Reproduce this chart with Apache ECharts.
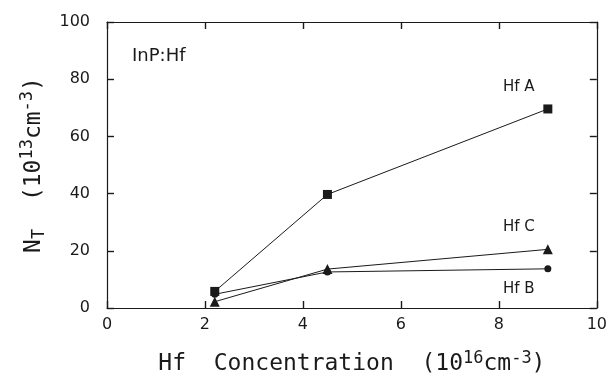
<!DOCTYPE html>
<html>
<head>
<meta charset="utf-8">
<script src="https://cdn.jsdelivr.net/npm/echarts@6/dist/echarts.min.js"></script>
<style>html,body{margin:0;padding:0;background:#fff;}#c{width:610px;height:381px;}</style>
</head>
<body>
<div id="c"></div>
<script>
var concentration = [2.2, 4.5, 9.0];
var hfA = [5.8, 39.7, 69.6];
var hfB = [4.8, 12.6, 13.7];
var hfC = [2.2, 13.6, 20.5];
var xTicks = [0, 2, 4, 6, 8, 10];
var yTicks = [0, 20, 40, 60, 80, 100];

function pairs(xs, ys) { return xs.map(function (x, i) { return [x, ys[i]]; }); }

var ink = '#1a1a1a';
var font = 'DejaVu Sans';
var chart = echarts.init(document.getElementById('c'));

function seriesDef(name, data, symbol, size, labelPos, labelOffset) {
  return {
    name: name, type: 'line', data: pairs(concentration, data),
    symbol: symbol, symbolSize: size, showAllSymbol: true,
    lineStyle: { color: ink, width: 1 },
    itemStyle: { color: ink, borderColor: ink, borderWidth: 0 },
    label: {
      show: true,
      formatter: function (p) { return p.dataIndex === data.length - 1 ? name.replace('Hf', 'Hf ') : ''; },
      position: labelPos, offset: labelOffset,
      color: ink, fontFamily: font, fontSize: 15
    },
    emphasis: { disabled: true },
    z: 3
  };
}

function axisLine() { return { show: true, onZero: false, lineStyle: { color: ink, width: 1.2 } }; }
function axisTick() { return { show: true, inside: true, length: 7, lineStyle: { color: ink, width: 1.4 } }; }

chart.setOption({
  animation: false,
  backgroundColor: '#fff',
  title: {
    text: 'InP:Hf', left: 127, top: 42,
    textStyle: { fontFamily: font, fontWeight: 'normal', fontSize: 18, color: ink }
  },
  grid: { left: 107, right: 13, top: 22, bottom: 72 },
  xAxis: [{
    type: 'value', min: 0, max: 10, interval: 2,
    axisLine: axisLine(), axisTick: axisTick(), splitLine: { show: false },
    axisLabel: {
      margin: 9, color: ink, fontFamily: font, fontSize: 16,
      formatter: function (v) { return xTicks.indexOf(v) >= 0 ? String(v) : ''; }
    },
    name: 'Hf  Concentration  (10{sup|16}cm{sup|-3})',
    nameLocation: 'middle', nameGap: 42,
    nameTextStyle: {
      fontFamily: 'DejaVu Sans Mono', fontSize: 23, color: ink,
      rich: { sup: { fontFamily: 'DejaVu Sans Mono', fontSize: 17, color: ink, verticalAlign: 'bottom', padding: [0, 0, 12, 0] } }
    }
  }, {
    type: 'value', position: 'top', min: 0, max: 10, interval: 2,
    axisLine: axisLine(), axisTick: axisTick(), axisLabel: { show: false }, splitLine: { show: false }
  }],
  yAxis: [{
    type: 'value', min: 0, max: 100, interval: 20,
    axisLine: axisLine(), axisTick: axisTick(), splitLine: { show: false },
    axisLabel: {
      margin: 17, color: ink, fontFamily: font, fontSize: 16,
      formatter: function (v) { return yTicks.indexOf(v) >= 0 ? String(v) : ''; }
    },
    name: 'N{sub|T}  (10{sup|13}cm{sup|-3})',
    nameLocation: 'middle', nameGap: 50, nameRotate: 90,
    nameTextStyle: {
      fontFamily: 'DejaVu Sans Mono', fontSize: 23, color: ink,
      rich: {
        sup: { fontFamily: 'DejaVu Sans Mono', fontSize: 17, color: ink, verticalAlign: 'bottom', padding: [0, 0, 12, 0] },
        sub: { fontFamily: 'DejaVu Sans Mono', fontSize: 17, color: ink, verticalAlign: 'top', padding: [12, 0, 0, 0] }
      }
    }
  }, {
    type: 'value', position: 'right', min: 0, max: 100, interval: 20,
    axisLine: axisLine(), axisTick: axisTick(), axisLabel: { show: false }, splitLine: { show: false }
  }],
  series: [
    seriesDef('HfA', hfA, 'rect', 9, 'top', [-29, -5]),
    seriesDef('HfC', hfC, 'triangle', 10, 'top', [-29, -5]),
    seriesDef('HfB', hfB, 'circle', 7, 'bottom', [-29, 4])
  ]
});
</script>
</body>
</html>
